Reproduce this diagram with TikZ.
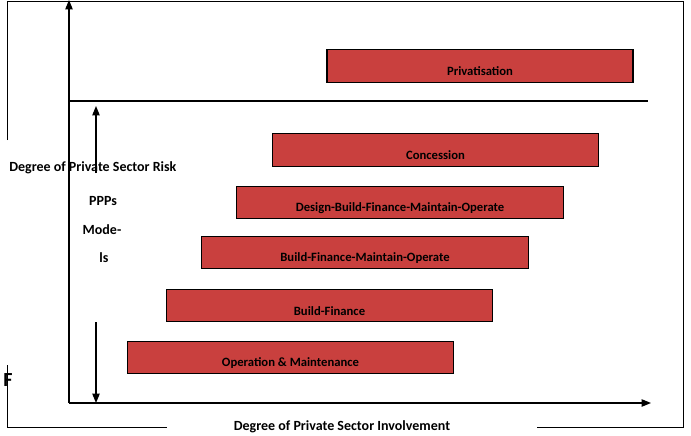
\documentclass[tikz,border=0pt]{standalone}
\usepackage{fontspec}
\setmainfont{Carlito}
\usetikzlibrary{shapes, arrows, arrows.meta}
\definecolor{barred}{RGB}{201,64,62}

\begin{document}
\begin{tikzpicture}[x=0.75pt, y=-0.75pt, font=\fontsize{10.5}{12}\selectfont\bfseries,
    bar/.style={draw, fill=barred, line width=0.9pt, minimum width=245pt, minimum height=24.5pt, inner sep=0pt},
    lbl/.style={yshift=-4pt, inner sep=0pt, font=\fontsize{9.5}{11}\selectfont\bfseries},
    axis/.style={line width=0.9pt, -{Triangle[length=7pt, width=5.5pt]}},
    frame/.style={line width=0.75pt}]
    \useasboundingbox (0,0) rectangle (691,435);

    % text box frame, broken by the labels
    \draw[frame] (7,140) -- (7,2) -- (683,2) -- (683,427) -- (537,427);
    \draw[frame] (7,365) -- (7,427) -- (167,427);

    % axes
    \coordinate (o) at (69,403);
    \coordinate (ytop) at (69,0);
    \coordinate (xend) at (651,403);
    \draw[axis] (o) -- (ytop);
    \draw[axis] (o) -- (xend);

    % line above the PPP models
    \coordinate (s0) at (69,101);
    \coordinate (s1) at (648,101);
    \draw[line width=0.9pt] (s0) -- (s1);

    % risk arrows
    \coordinate (r0) at (96,173);
    \coordinate (r1) at (96,106);
    \coordinate (r2) at (96,322);
    \coordinate (r3) at (96,403);
    \draw[axis] (r0) -- (r1);
    \draw[axis] (r2) -- (r3);

    % bars
    \node[bar, minimum width=229.5pt, label={[lbl]center:Privatisation}] (b1) at (480,66) {};
    \node[bar, label={[lbl]center:Concession}] (b2) at (435.5,150) {};
    \node[bar, label={[lbl]center:Design-Build-Finance-Maintain-Operate}] (b3) at (400,202.5) {};
    \node[bar, label={[lbl]center:Build-Finance-Maintain-Operate}] (b4) at (365,252.5) {};
    \node[bar, label={[lbl]center:Build-Finance}] (b5) at (329.5,305.5) {};
    \node[bar, label={[lbl]center:Operation \& Maintenance}] (b6) at (290.5,357.5) {};

    % labels
    \node[anchor=west, inner sep=0pt] (risk) at (9,168) {Degree of Private Sector Risk};
    \node[inner sep=0pt] (ppp) at (103,201) {PPPs};
    \node[inner sep=0pt] (mode) at (102,230) {Mode-};
    \node[inner sep=0pt] (ls) at (104,258) {ls};
    \node[inner sep=0pt, font=\fontsize{15}{17}\selectfont\bfseries] (f) at (8,380) {F};
    \node[inner sep=0pt] (inv) at (342,427) {Degree of Private Sector Involvement};
\end{tikzpicture}
\end{document}
